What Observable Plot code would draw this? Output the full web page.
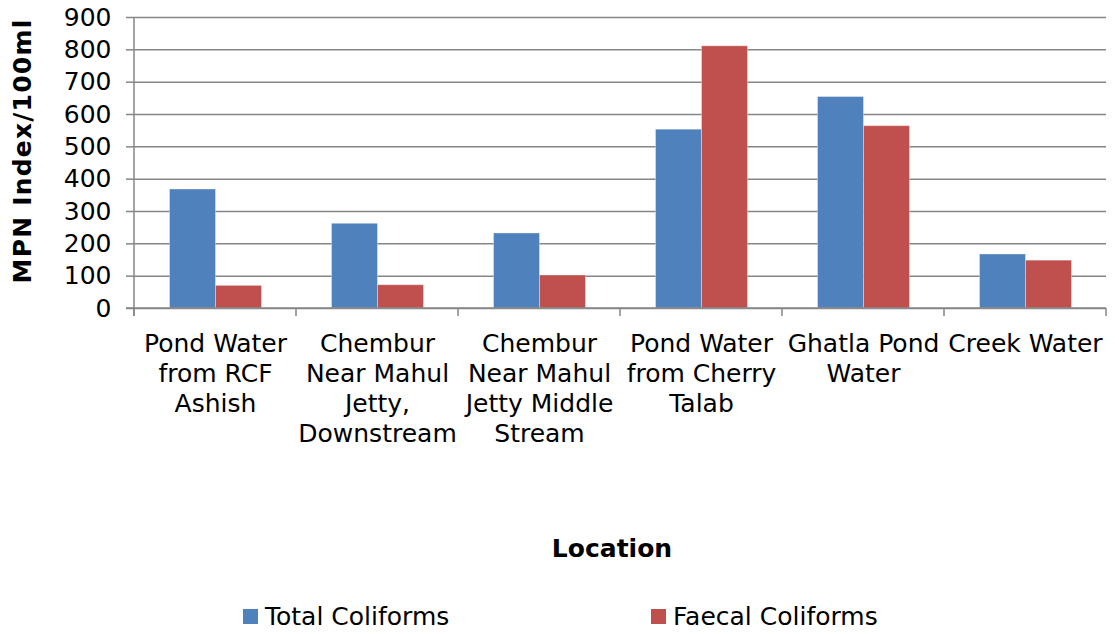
<!DOCTYPE html>
<html>
<head>
<meta charset="utf-8">
<script src="https://cdn.jsdelivr.net/npm/d3@7"></script>
<script src="https://cdn.jsdelivr.net/npm/@observablehq/plot@0.6"></script>
<style>
  html, body { margin: 0; padding: 0; background: #fff; }
  body { width: 1119px; height: 634px; overflow: hidden; font-family: "DejaVu Sans", Verdana, sans-serif; }
  #legend { position: relative; height: 44px; font-size: 25px; color: #000; }
  .item { position: absolute; top: 12px; display: flex; align-items: center; white-space: nowrap; }
  .sw { width: 15px; height: 15px; margin-right: 7px; }
</style>
</head>
<body>
<div id="chart"></div>
<div id="legend"></div>
<script>
const categories = [
  "Pond Water\nfrom RCF\nAshish",
  "Chembur\nNear Mahul\nJetty,\nDownstream",
  "Chembur\nNear Mahul\nJetty Middle\nStream",
  "Pond Water\nfrom Cherry\nTalab",
  "Ghatla Pond\nWater",
  "Creek Water"
];
const seriesNames = ["Total Coliforms", "Faecal Coliforms"];
const totalColiforms = [368, 262, 232, 553, 654, 167];
const faecalColiforms = [70, 72, 102, 811, 564, 148];
const seriesColors = ["#4F81BD", "#C0504D"];
const yTicks = [0, 100, 200, 300, 400, 500, 600, 700, 800, 900];
const yTitle = "MPN Index/100ml";
const xTitle = "Location";

const data = [];
categories.forEach((c, i) => {
  data.push({location: c, series: seriesNames[0], value: totalColiforms[i]});
  data.push({location: c, series: seriesNames[1], value: faecalColiforms[i]});
});

const gray = "#868686";
const chart = Plot.plot({
  width: 1119,
  height: 590,
  marginTop: 17,
  marginBottom: 282,
  marginLeft: 132.5,
  marginRight: 11,
  style: {fontFamily: "DejaVu Sans, Verdana, sans-serif", fontSize: "25px", color: "#000", background: "#fff"},
  fx: {domain: categories, padding: 0, label: null},
  x: {domain: seriesNames, paddingInner: 0, paddingOuter: 0.743, axis: null},
  y: {domain: [0, 900], label: null},
  color: {domain: seriesNames, range: seriesColors},
  marks: [
    Plot.gridY(yTicks, {stroke: gray, strokeOpacity: 1, strokeWidth: 1.5}),
    Plot.axisY(yTicks, {tickSize: 8, tickPadding: 15, stroke: gray, strokeWidth: 1.5, fill: "#000", label: null, fontSize: 25}),
    Plot.axisFx({anchor: "bottom", tickSize: 0, tickPadding: 22, label: null, lineHeight: 1.2, fontSize: 25, fill: "#000"}),
    Plot.barY(data, {fx: "location", x: "series", y: "value", fill: "series", stroke: "#ffffff", strokeOpacity: 0.35, strokeWidth: 1})
  ]
});
document.getElementById("chart").appendChild(chart);

// category boundary ticks and axis lines drawn with the chart's scales
const fx = chart.scale("fx");
const ys = chart.scale("y");
const svg = d3.select(chart);
const y0 = ys.apply(0);
const yTop = ys.apply(900);
const bounds = categories.map(c => fx.apply(c));
bounds.push(fx.apply(categories[categories.length - 1]) + fx.bandwidth);
const g = svg.append("g").attr("stroke", gray).attr("stroke-width", 1.5);
g.append("line").attr("x1", bounds[0]).attr("x2", bounds[0]).attr("y1", yTop).attr("y2", y0 + 8);
bounds.forEach(x => {
  g.append("line").attr("x1", x).attr("x2", x).attr("y1", y0).attr("y2", y0 + 8);
});
g.append("line").attr("x1", bounds[0] - 8).attr("x2", bounds[bounds.length - 1]).attr("y1", y0).attr("y2", y0);

svg.append("text")
  .attr("transform", `translate(${22},${151}) rotate(-90)`)
  .attr("text-anchor", "middle").attr("dy", "0.35em")
  .attr("font-weight", "bold").attr("font-size", 25).attr("letter-spacing", "1.2px").attr("fill", "#000")
  .text(yTitle);
svg.append("text")
  .attr("x", 612).attr("y", 548)
  .attr("text-anchor", "middle").attr("dy", "0.35em")
  .attr("font-weight", "bold").attr("font-size", 25).attr("fill", "#000")
  .text(xTitle);

// legend
const legend = d3.select("#legend");
const legendX = [243, 651];
seriesNames.forEach((s, i) => {
  const it = legend.append("div").attr("class", "item").style("left", legendX[i] + "px");
  it.append("div").attr("class", "sw").style("background", seriesColors[i]);
  it.append("span").text(s);
});
</script>
</body>
</html>
